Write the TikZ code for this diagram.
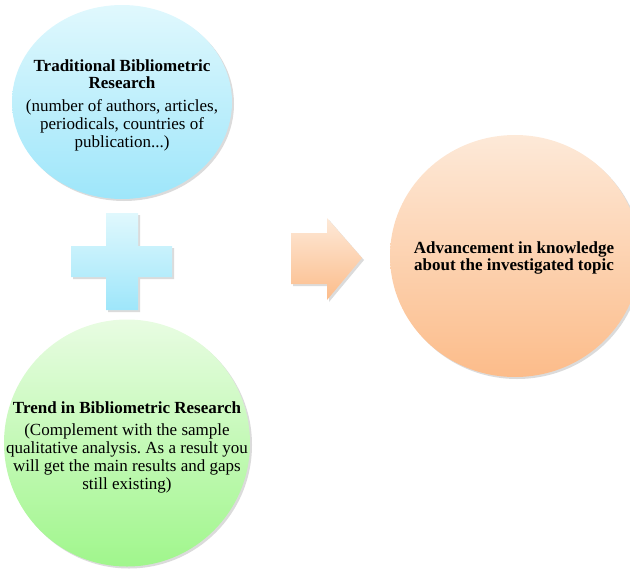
\documentclass[tikz,border=0pt]{standalone}
\usepackage{fontspec}
\setmainfont{Liberation Serif}
\frenchspacing
\definecolor{bluetop}{RGB}{224,248,253}
\definecolor{bluebot}{RGB}{158,230,250}
\definecolor{greentop}{RGB}{232,252,226}
\definecolor{greenbot}{RGB}{160,246,140}
\definecolor{orangetop}{RGB}{253,233,216}
\definecolor{orangebot}{RGB}{252,188,138}
\tikzset{
  shad/.style={fill=black, opacity=0.14},
  txt/.style={align=center, font=\fontsize{17bp}{18bp}\selectfont, inner sep=0pt},
  ttl/.style={align=center, font=\fontsize{17bp}{17.5bp}\selectfont\bfseries, inner sep=0pt}
}
\begin{document}
\begin{tikzpicture}[x=1bp,y=-1bp]
\useasboundingbox (0,0) rectangle (630,570);
% shadows
\fill[shad] (124,104) ellipse [x radius=110, y radius=97];
\fill[shad] (129,445) ellipse [x radius=123, y radius=123.5];
\fill[shad] (517,258) ellipse [x radius=125, y radius=121];
\fill[shad] (108,215) -- (140,215) -- (140,248) -- (174,248) -- (174,279) -- (140,279) -- (140,312) -- (108,312) -- (108,279) -- (73,279) -- (73,248) -- (108,248) -- cycle;
\fill[shad] (293,235) -- (329,235) -- (329,220) -- (364,260) -- (329,302) -- (329,286) -- (293,286) -- cycle;
% shapes
\shade[top color=bluetop, bottom color=bluebot] (122,102) ellipse [x radius=110, y radius=97];
\shade[top color=greentop, bottom color=greenbot] (127,443) ellipse [x radius=123, y radius=123.5];
\shade[top color=orangetop, bottom color=orangebot] (515,256) ellipse [x radius=125, y radius=121];
\shade[top color=bluetop, bottom color=bluebot] (106,213) -- (138,213) -- (138,246) -- (172,246) -- (172,277) -- (138,277) -- (138,310) -- (106,310) -- (106,277) -- (71,277) -- (71,246) -- (106,246) -- cycle;
\shade[top color=orangetop, bottom color=orangebot] (291,233) -- (327,233) -- (327,218) -- (362,258) -- (327,300) -- (327,284) -- (291,284) -- cycle;
% texts
\node[ttl] (t1) at (122,74) {Traditional Bibliometric\\Research};
\node[txt] (b1) at (122,125) {(number of authors, articles,\\periodicals, countries of\\publication...)};
\node[ttl] (t2) at (127,408) {Trend in Bibliometric Research};
\node[txt] (b2) at (127,458) {(Complement with the sample\\qualitative analysis. As a result you\\will get the main results and gaps\\still existing)};
\node[ttl] (t3) at (514,258) {Advancement in knowledge\\about the investigated topic};
\end{tikzpicture}
\end{document}
